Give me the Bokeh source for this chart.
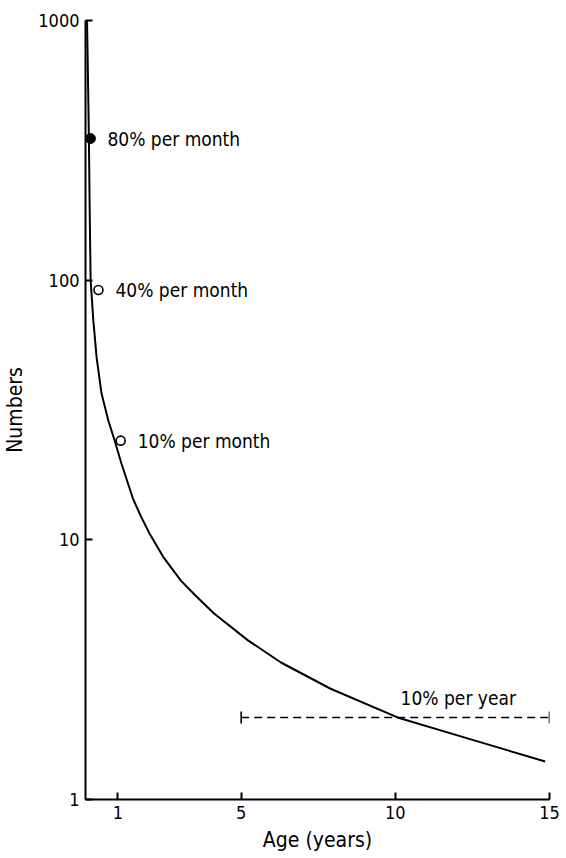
from bokeh.plotting import figure
from bokeh.models import FixedTicker, ColumnDataSource
from bokeh.core.properties import value
from bokeh.embed import file_html
from bokeh.resources import INLINE
import math

# Survival curve: numbers remaining by age (years)
age = [0, 0.03, 0.06, 0.085, 0.116, 0.204, 0.31, 0.47, 0.69, 0.91, 1.12, 1.5,
       1.75, 2.04, 2.47, 3.05, 3.55, 4.12, 5.22, 6.29, 7.9, 10.07, 12.34, 14.86]
numbers = [1000, 600, 350, 190, 100, 70, 50.4, 36.6, 28.8, 23.8, 19.6, 14.3,
           12.3, 10.5, 8.6, 6.95, 6.05, 5.2, 4.1, 3.37, 2.67, 2.07, 1.72, 1.40]

# Annotated mortality rates
rate_age_filled = [0.11]
rate_num_filled = [351]
rate_label_filled = ["80% per month"]

rate_age_open = [0.37, 1.09]
rate_num_open = [91.6, 24.1]
rate_label_open = ["40% per month", "10% per month"]

# Adult mortality band
adult_age = [5, 15]
adult_num = [2.07, 2.07]
adult_label = "10% per year"

x_ticks = [1, 5, 10, 15]
y_ticks = [1, 10, 100, 1000]

FONT = "DejaVu Sans Condensed, Liberation Sans Narrow, Roboto Condensed, sans-serif"

p = figure(width=566, height=858, y_axis_type="log",
           x_range=(-0.05, 15), y_range=(1, 1000),
           output_backend="svg", toolbar_location=None,
           min_border_left=84, min_border_right=17,
           min_border_top=20, min_border_bottom=59)
p.background_fill_color = "white"
p.border_fill_color = "white"
p.outline_line_color = None
p.xgrid.visible = False
p.ygrid.visible = False

for ax in (p.xaxis[0], p.yaxis[0]):
    ax.axis_line_width = 2
    ax.axis_line_color = "black"
    ax.major_tick_in = 7
    ax.major_tick_out = 0
    ax.major_tick_line_width = 2
    ax.major_tick_line_color = "black"
    ax.minor_tick_in = 0
    ax.minor_tick_out = 0
    ax.major_label_text_font = FONT
    ax.major_label_text_font_size = "18px"
    ax.major_label_text_color = "black"
    ax.axis_label_text_font = FONT
    ax.axis_label_text_font_size = "21px"
    ax.axis_label_text_font_style = "normal"
    ax.axis_label_text_color = "black"

p.xaxis.ticker = FixedTicker(ticks=x_ticks)
p.yaxis.ticker = FixedTicker(ticks=y_ticks)
p.yaxis.major_label_overrides = {t: str(t) for t in y_ticks}
p.xaxis.major_label_standoff = 6
p.yaxis.major_label_standoff = 6
p.xaxis.axis_label = "Age (years)"
p.yaxis.axis_label = "Numbers"
p.xaxis.axis_label_standoff = 6
p.yaxis.axis_label_standoff = 8

# survival curve
p.line(age, numbers, line_color="black", line_width=2)

# rate markers with labels
p.scatter(rate_age_filled, rate_num_filled, size=10, marker="circle",
          fill_color="black", line_color="black")
p.scatter(rate_age_open, rate_num_open, size=9, marker="circle",
          fill_color="white", line_color="black", line_width=1.6)

lab_src = ColumnDataSource(dict(
    x=rate_age_filled + rate_age_open,
    y=rate_num_filled + rate_num_open,
    t=rate_label_filled + rate_label_open,
))
p.text(x="x", y="y", text="t", source=lab_src, x_offset=17,
       text_font=value(FONT), text_font_size="19px",
       text_baseline="middle", text_align="left", text_color="black")

# adult band: dashed bar with end caps
p.line(adult_age, adult_num, line_color="black", line_width=1.6,
       line_dash="8 5")
p.scatter(adult_age, adult_num, marker="dash", angle=math.pi / 2, size=12,
          line_color="black", line_width=1.6)
p.text(x=[10.17], y=[adult_num[0]], text=[adult_label], y_offset=-8,
       text_font=value(FONT), text_font_size="19px",
       text_baseline="bottom", text_align="left", text_color="black")

open("out.html", "w").write(file_html(p, INLINE))
